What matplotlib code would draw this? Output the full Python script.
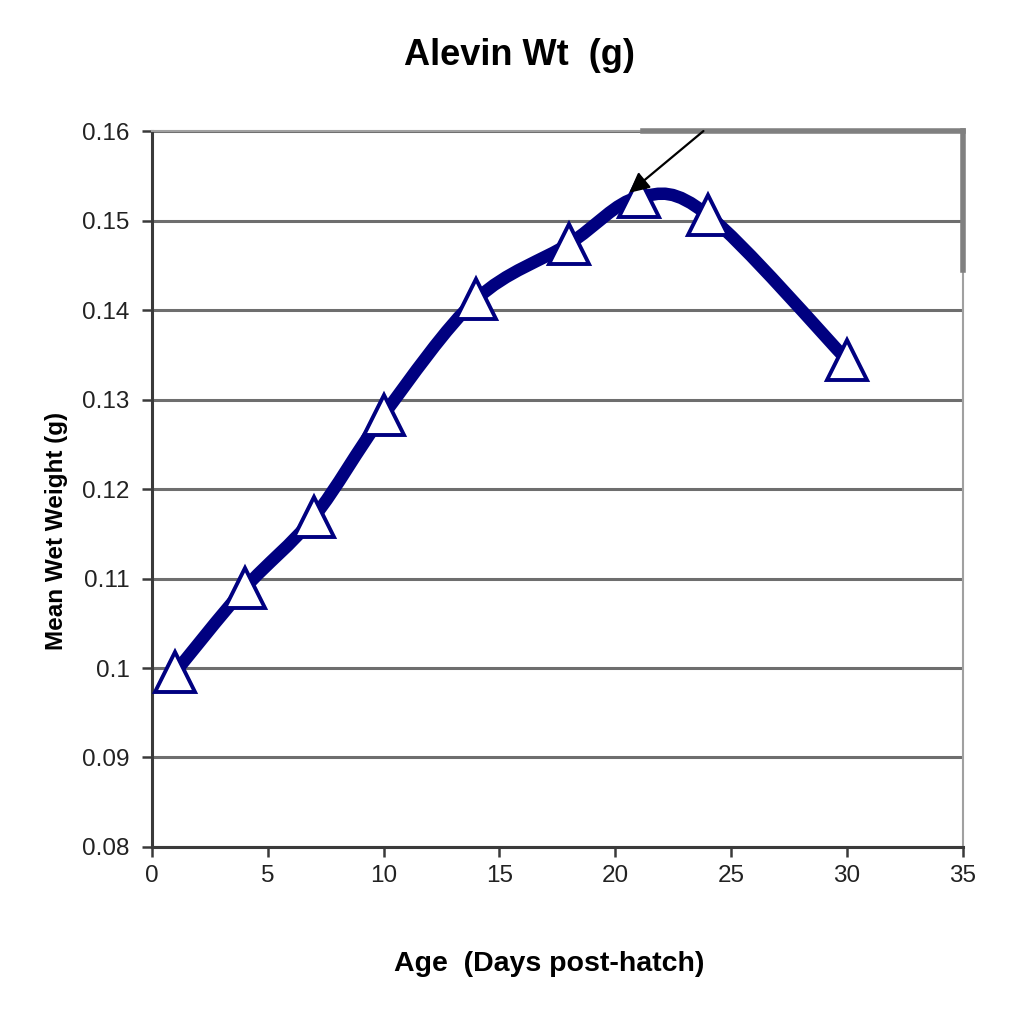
import numpy as np
import matplotlib
matplotlib.use("Agg")
import matplotlib.pyplot as plt
from matplotlib.path import Path
from matplotlib.patches import PathPatch
from matplotlib.lines import Line2D

plt.rcParams['font.family'] = ['Liberation Sans', 'DejaVu Sans']

age_days = [1, 4, 7, 10, 14, 18, 21, 24, 30]
mean_wet_weight = [0.0995, 0.1089, 0.1169, 0.1283, 0.1412, 0.1474, 0.1526, 0.1506, 0.1344]
x_ticks = [0, 5, 10, 15, 20, 25, 30, 35]
y_ticks = [0.08, 0.09, 0.10, 0.11, 0.12, 0.13, 0.14, 0.15, 0.16]
y_tick_labels = ['0.08', '0.09', '0.1', '0.11', '0.12', '0.13', '0.14', '0.15', '0.16']
arrow_tip = (20.6, 0.1531)
arrow_tail = (23.8, 0.1600)

fig = plt.figure(figsize=(10.26, 10.19), dpi=100)
ax = fig.add_axes([0.148, 0.1688, 0.7906, 0.7026])

navy = '#000080'

# smoothed line (Catmull-Rom as cubic Bezier, like spreadsheet smoothing)
pts = np.column_stack([age_days, mean_wet_weight]).astype(float)
verts = [pts[0]]
codes = [Path.MOVETO]
n = len(pts)
for i in range(n - 1):
    p0 = pts[i - 1] if i > 0 else pts[i]
    p1 = pts[i]
    p2 = pts[i + 1]
    p3 = pts[i + 2] if i + 2 < n else pts[i + 1]
    c1 = p1 + (p2 - p0) / 6.0
    c2 = p2 - (p3 - p1) / 6.0
    verts += [c1, c2, p2]
    codes += [Path.CURVE4] * 3
ax.add_patch(PathPatch(Path(verts, codes), facecolor='none', edgecolor=navy,
                       lw=9, capstyle='butt', joinstyle='round', zorder=3))

ax.plot(age_days, mean_wet_weight, linestyle='none', marker='^', markersize=29,
        markerfacecolor='white', markeredgecolor=navy, markeredgewidth=2.8, zorder=4)

ax.annotate('', xy=arrow_tip, xytext=arrow_tail,
            arrowprops=dict(arrowstyle='-|>', color='black', lw=1.6,
                            mutation_scale=30, shrinkA=0, shrinkB=0),
            annotation_clip=False, zorder=6)

ax.set_xlim(0, 35)
ax.set_ylim(0.08, 0.16)
ax.set_xticks(x_ticks)
ax.set_yticks(y_ticks)
ax.set_yticklabels(y_tick_labels)
ax.yaxis.grid(True, color='#6e6e6e', lw=2.2)
ax.set_axisbelow(True)

for s in ['top', 'right']:
    ax.spines[s].set_color('#a0a0a0')
    ax.spines[s].set_linewidth(1.5)
for s in ['left', 'bottom']:
    ax.spines[s].set_color('#3a3a3a')
    ax.spines[s].set_linewidth(2.2)

ax.tick_params(axis='both', direction='out', length=7, width=1.8, color='#3a3a3a',
               labelsize=17.5, labelcolor='#222222')
ax.tick_params(axis='y', pad=9)
ax.tick_params(axis='x', pad=6)

# overlay box edge in the upper right
ax.add_line(Line2D([0.605, 1.0], [1.0, 1.0], transform=ax.transAxes, color='#808080',
                   lw=4, clip_on=False, zorder=5))
ax.add_line(Line2D([1.0, 1.0], [1.0, 0.806], transform=ax.transAxes, color='#808080',
                   lw=4, clip_on=False, zorder=5))

fig.text(0.506, 0.946, 'Alevin Wt  (g)', ha='center', va='center', fontsize=26,
         fontweight='bold')
fig.text(0.5355, 1 - 964 / 1019, 'Age  (Days post-hatch)', ha='center', va='center',
         fontsize=20.5, fontweight='bold')
fig.text(57 / 1026, 1 - 531 / 1019, 'Mean Wet Weight (g)', ha='center', va='center',
         rotation=90, fontsize=17.5, fontweight='bold')

fig.savefig('out.png', dpi=100, facecolor='white')
